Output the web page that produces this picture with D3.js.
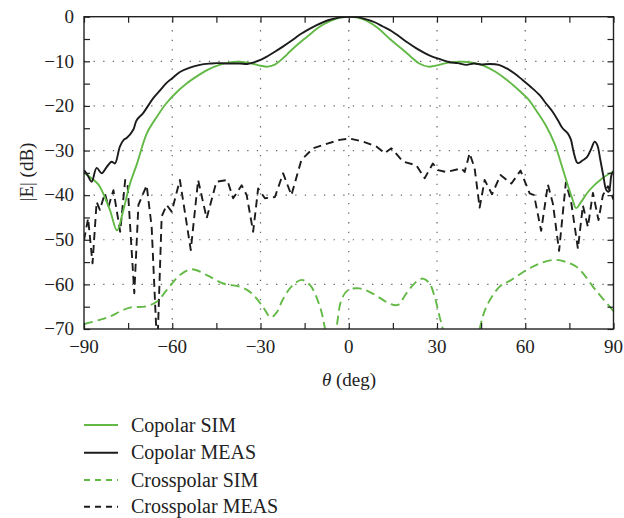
<!DOCTYPE html>
<html>
<head>
<meta charset="utf-8">
<script src="https://cdn.jsdelivr.net/npm/d3@7"></script>
<style>
  html, body { margin: 0; padding: 0; background: #fff; }
  svg { display: block; }
  text { font-family: "Liberation Serif", "DejaVu Serif", serif; fill: #222; }
</style>
</head>
<body>
<div id="chart"></div>
<script>
// ---------------- data ----------------
const xTicks = [-90, -60, -30, 0, 30, 60, 90];
const xMinorTicks = [-75, -45, -15, 15, 45, 75];
const yTicks = [0, -10, -20, -30, -40, -50, -60, -70];
const yMinorTicks = [-5, -15, -25, -35, -45, -55, -65];

const seriesNames = ["Copolar SIM", "Copolar MEAS", "Crosspolar SIM", "Crosspolar MEAS"];

const copolSimTheta = [-90,-86,-84.6,-81.2,-78.8,-76.6,-74.4,-72,-68.6,-65,-62,-58,-55,-51,-48,-44,-41,-37,-33,-30,-27.5,-25,-22,-20,-17,-14,-10,-6,-3,0,3,6,10,14,18,21,24,27,30,34,39,43,46,50,54,58,61,64,67,70,72,74,76,77.3,79,81.8,86,90];
const copolSimDb    = [-35.0,-37.0,-38.1,-43.3,-47.9,-43.3,-37.5,-33.0,-26.1,-22.2,-19.4,-16.6,-14.9,-13.1,-11.9,-10.8,-10.3,-10.1,-10.5,-11.0,-11.2,-10.7,-9.1,-7.8,-6.0,-4.4,-2.3,-0.9,-0.2,0,-0.2,-0.9,-2.6,-5.0,-7.2,-8.9,-10.5,-11.2,-10.9,-10.3,-10.1,-10.4,-11.0,-12.4,-14.3,-16.6,-18.5,-21.3,-24.4,-28.5,-32.5,-36.8,-40.8,-42.9,-41.5,-38.9,-36.3,-34.7];

const copolMeasTheta = [-90,-88.8,-87.4,-85.7,-84,-82.3,-80.6,-79.5,-77.8,-76.5,-75.5,-73.3,-72.1,-69.9,-66.5,-64,-62,-60,-57.4,-54,-50.6,-47,-45,-41,-37,-34.5,-32.6,-30,-28,-25,-22.4,-19.5,-16.6,-13.5,-10.9,-7,-3,0,3,6,9,11.6,14.5,17.3,20,23,26,28.6,31.5,34.3,37,40,42.5,45,47.9,51,53.7,56.5,59.1,62,64.9,67,69.3,71,72.7,74.4,75.5,76.5,77.8,79.5,81,82.5,83.6,84.5,85.5,86.5,87.6,88.4,89.3,90];
const copolMeasDb    = [-34.4,-35.5,-37.0,-33.9,-35.1,-33.7,-32.5,-32.9,-29.1,-27.6,-27.2,-25.4,-23.2,-21.6,-18.3,-16.4,-14.9,-13.8,-12.4,-11.4,-10.8,-10.5,-10.4,-10.5,-10.5,-10.6,-10.3,-9.7,-9.0,-7.8,-6.7,-5.4,-4.0,-2.8,-1.9,-0.8,-0.15,0,-0.1,-0.6,-1.3,-2.2,-3.2,-4.5,-5.8,-7.1,-8.2,-9.0,-9.6,-10.2,-10.4,-10.8,-10.5,-10.7,-10.6,-10.8,-11.6,-12.8,-14.2,-15.8,-17.6,-19.4,-21.3,-23.1,-25.0,-26.1,-27.5,-30.5,-32.8,-32.2,-31.5,-29.5,-28.0,-28.8,-32.0,-35.5,-38.9,-39.2,-35.5,-34.6];

const crossSimTheta = [-90,-85,-81.2,-77.5,-74.4,-68.7,-65.3,-61.9,-57.4,-53.4,-48.3,-42.7,-37,-33,-29.2,-26.5,-24.5,-22.5,-19.5,-16,-13,-9.8,-8.2,-6,-4.2,-2.5,-0.3,3.7,8,13.9,16.7,19.6,23,25.2,27.5,29.2,30.9,32,34,38,42,44.5,46.8,51.3,55,60.4,65,70,74,77.3,80,83,86,90];
const crossSimDb    = [-68.9,-68.0,-67.2,-66.0,-65.2,-64.9,-63.9,-61.3,-57.9,-56.6,-57.9,-59.8,-60.5,-62.0,-65.0,-67.4,-66.3,-63.5,-60.5,-59.0,-60.3,-65.0,-69.5,-78,-70,-63.5,-61.3,-60.9,-62.0,-64.3,-64.6,-62.0,-59.4,-58.7,-59.8,-62.8,-67.3,-70.2,-80,-88,-80,-70,-65,-60.5,-59.1,-56.8,-55.3,-54.5,-55.0,-56.0,-57.8,-60.5,-62.9,-66.0];

const crossMeasTheta = [-90,-88.6,-87.1,-85.7,-84.6,-82.9,-81.7,-80,-77.7,-76,-75.2,-72.9,-71.5,-68.7,-67,-65.1,-63.6,-61.9,-60.2,-57.4,-53.7,-51.2,-48.3,-45,-41.3,-39.3,-36.4,-34.7,-32.5,-30.8,-28.5,-25.1,-22.3,-19.5,-16.1,-12.1,-7,-3.1,0.3,4.8,9.4,12.2,14.5,18.5,23,25.8,28.6,30.3,33.2,38.3,39.4,41.1,42.8,44.5,46.2,48.7,51.6,55.3,58.4,61.5,63,65.4,67.7,69.4,71.5,73.8,75.6,77.9,79.6,81.3,83,84.9,86.4,88.1,90];
const crossMeasDb    = [-50.1,-45.2,-55.3,-41.5,-43.3,-39.6,-42.6,-38.9,-48.2,-36.6,-37.5,-62,-42.2,-37.8,-47.1,-75,-44.8,-42.2,-43.7,-36.6,-52.3,-36.6,-45.2,-37,-36.6,-40.7,-37.8,-40,-48.2,-38.5,-40.7,-40.4,-35.1,-40,-32.1,-29.5,-28.4,-27.6,-27.3,-28,-29.1,-30.6,-29.5,-32.5,-33.3,-36.2,-32.9,-34.4,-34.8,-34,-34.8,-30.6,-34,-42.8,-36.6,-39.8,-35.5,-37.4,-34.5,-39.6,-40,-48,-37.6,-41.9,-52.5,-37.2,-41.5,-52,-42.3,-47.1,-39.5,-45.6,-40,-38,-41];

// ---------------- layout ----------------
const W = 624, H = 518;
const pLeft = 84, pRight = 613.5, pTop = 16.7, pBottom = 329;
const green = "#63b946", black = "#1c1c1c";

const svg = d3.select("#chart").append("svg").attr("width", W).attr("height", H);

const x = d3.scaleLinear().domain([-90, 90]).range([pLeft, pRight]);
const y = d3.scaleLinear().domain([-70, 0]).range([pBottom, pTop]);

// grid (dotted)
const grid = svg.append("g").attr("stroke", "#666").attr("stroke-width", 1.2).attr("stroke-dasharray", "1.3,8.3");
grid.selectAll("line.gx").data(xTicks.slice(1, -1)).join("line").attr("class", "gx")
  .attr("x1", d => x(d)).attr("x2", d => x(d)).attr("y1", pBottom).attr("y2", pTop);
grid.selectAll("line.gy").data(yTicks.slice(1, -1)).join("line").attr("class", "gy")
  .attr("y1", d => y(d)).attr("y2", d => y(d)).attr("x1", pLeft).attr("x2", pRight);

// clip
svg.append("clipPath").attr("id", "clip").append("rect")
  .attr("x", pLeft).attr("y", pTop).attr("width", pRight - pLeft).attr("height", pBottom - pTop);

const series = [
  { th: copolSimTheta, db: copolSimDb, color: green, dash: null, curve: d3.curveCatmullRom },
  { th: copolMeasTheta, db: copolMeasDb, color: black, dash: null, curve: d3.curveCatmullRom },
  { th: crossSimTheta, db: crossSimDb, color: green, dash: "9,5", curve: d3.curveCatmullRom },
  { th: crossMeasTheta, db: crossMeasDb, color: black, dash: "8,5", curve: d3.curveLinear }
];

const plot = svg.append("g").attr("clip-path", "url(#clip)");
[3, 2, 0, 1].forEach(i => {
  const s = series[i];
  const pts = s.th.map((t, k) => [t, s.db[k]]);
  const line = d3.line().x(d => x(d[0])).y(d => y(d[1])).curve(s.curve);
  plot.append("path").datum(pts)
    .attr("d", line).attr("fill", "none")
    .attr("stroke", s.color).attr("stroke-width", 1.9)
    .attr("stroke-linejoin", "round")
    .attr("stroke-dasharray", s.dash);
});

// axes with inward ticks
const tickLen = 6;
const axB = d3.axisBottom(x).tickValues(xTicks.concat(xMinorTicks)).tickSize(-tickLen).tickFormat("");
const axT = d3.axisTop(x).tickValues(xTicks.concat(xMinorTicks)).tickSize(-tickLen).tickFormat("");
const axL = d3.axisLeft(y).tickValues(yTicks.concat(yMinorTicks)).tickSize(-tickLen).tickFormat("");
const axR = d3.axisRight(y).tickValues(yTicks.concat(yMinorTicks)).tickSize(-tickLen).tickFormat("");
function styleAxis(g) {
  g.select(".domain").remove();
  g.selectAll(".tick line").attr("stroke", "#222").attr("stroke-width", 1.2);
}
svg.append("g").attr("transform", `translate(0,${pBottom})`).call(axB).call(styleAxis);
svg.append("g").attr("transform", `translate(0,${pTop})`).call(axT).call(styleAxis);
svg.append("g").attr("transform", `translate(${pLeft},0)`).call(axL).call(styleAxis);
svg.append("g").attr("transform", `translate(${pRight},0)`).call(axR).call(styleAxis);

// frame
svg.append("rect").attr("x", pLeft).attr("y", pTop).attr("width", pRight - pLeft).attr("height", pBottom - pTop)
  .attr("fill", "none").attr("stroke", "#222").attr("stroke-width", 1.4);

const fmt = d => d < 0 ? "\u2212" + Math.abs(d) : String(d);

// tick labels
svg.append("g").selectAll("text").data(xTicks).join("text")
  .attr("x", d => x(d)).attr("y", 353).attr("text-anchor", "middle")
  .attr("font-size", 19).text(fmt);
svg.append("g").selectAll("text").data(yTicks).join("text")
  .attr("x", 74).attr("y", d => y(d) + 6.3).attr("text-anchor", "end")
  .attr("font-size", 19).text(fmt);

// axis titles
const xt = svg.append("text").attr("x", 349).attr("y", 386).attr("text-anchor", "middle").attr("font-size", 19);
xt.append("tspan").attr("font-style", "italic").text("\u03B8");
xt.append("tspan").text(" (deg)");
svg.append("text").attr("transform", "translate(33,172) rotate(-90)")
  .attr("text-anchor", "middle").attr("font-size", 19).text("|E| (dB)");

// legend
const legY = [425, 452.7, 480, 506.7];
const legDash = [null, null, "6,5", "6,5"];
const legColor = [green, black, green, black];
const leg = svg.append("g");
seriesNames.forEach((name, i) => {
  leg.append("line").attr("x1", 84).attr("x2", 118).attr("y1", legY[i]).attr("y2", legY[i])
    .attr("stroke", legColor[i]).attr("stroke-width", 1.9).attr("stroke-dasharray", legDash[i]);
  leg.append("text").attr("x", 131).attr("y", legY[i] + 6.5).attr("font-size", 20).text(name);
});
</script>
</body>
</html>
